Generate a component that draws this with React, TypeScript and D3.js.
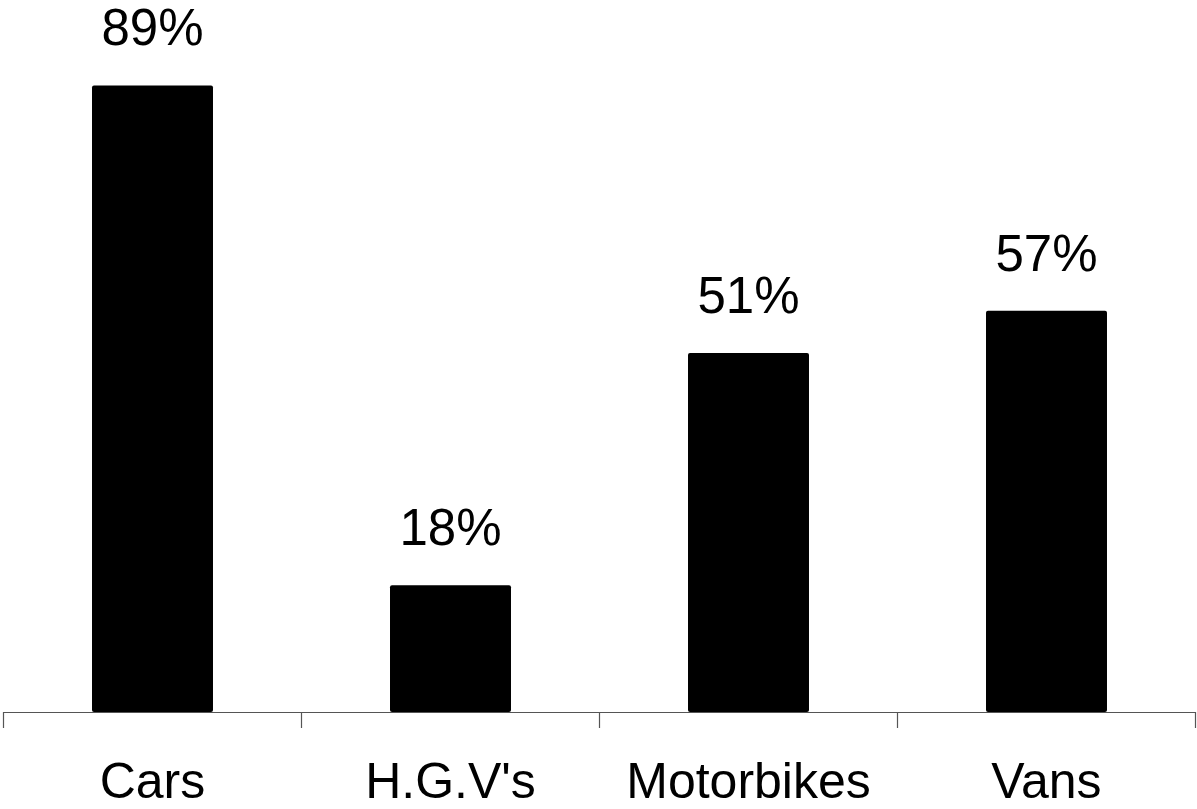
// @ts-nocheck
import { useEffect, useRef } from 'react';
import * as d3 from 'd3';

const categories = ['Cars', "H.G.V's", 'Motorbikes', 'Vans'];
const values = [89, 18, 51, 57];

const App = () => {
  const svgRef = useRef();

  useEffect(() => {
    document.body.style.margin = '0';
    const svg = d3.select(svgRef.current);
    svg.selectAll('*').remove();

    const width = 1197;
    const height = 809;
    const font = '"Liberation Sans", Arial, sans-serif';

    const x = d3.scaleBand().domain(categories).range([3.5, 1195.5]).paddingInner(0).paddingOuter(0);
    const y = d3.scaleLinear().domain([0, 100]).range([712, 8]);

    const barW = x.bandwidth() * 0.406;

    // Bars
    svg
      .selectAll('rect.bar')
      .data(values)
      .enter()
      .append('rect')
      .attr('class', 'bar')
      .attr('x', (d, i) => x(categories[i]) + x.bandwidth() / 2 - barW / 2)
      .attr('y', d => y(d))
      .attr('width', barW)
      .attr('height', d => y(0) - y(d))
      .attr('rx', 2)
      .attr('fill', '#000');

    // Value labels
    svg
      .selectAll('text.val')
      .data(values)
      .enter()
      .append('text')
      .attr('class', 'val')
      .attr('x', (d, i) => x(categories[i]) + x.bandwidth() / 2)
      .attr('y', d => y(d) - 40)
      .attr('text-anchor', 'middle')
      .style('font-family', font)
      .style('font-size', '51px')
      .attr('fill', '#000')
      .text(d => `${d}%`);

    // Axis
    const axis = svg.append('g');
    axis
      .append('line')
      .attr('x1', x.range()[0])
      .attr('x2', x.range()[1])
      .attr('y1', y(0) + 0.5)
      .attr('y2', y(0) + 0.5)
      .attr('stroke', '#555')
      .attr('stroke-width', 1.2);

    const tickPos = categories.map(c => x(c)).concat([x.range()[1]]);
    axis
      .selectAll('line.tick')
      .data(tickPos)
      .enter()
      .append('line')
      .attr('class', 'tick')
      .attr('x1', d => d)
      .attr('x2', d => d)
      .attr('y1', y(0))
      .attr('y2', y(0) + 16)
      .attr('stroke', '#555')
      .attr('stroke-width', 1.2);

    axis
      .selectAll('text.cat')
      .data(categories)
      .enter()
      .append('text')
      .attr('class', 'cat')
      .attr('x', d => x(d) + x.bandwidth() / 2)
      .attr('y', 798)
      .attr('text-anchor', 'middle')
      .style('font-family', font)
      .style('font-size', '50px')
      .attr('fill', '#000')
      .text(d => d);

    svg.attr('width', width).attr('height', height);
  }, []);

  return <svg ref={svgRef} style={{ display: 'block', background: '#fff' }}></svg>;
};

export default App;
